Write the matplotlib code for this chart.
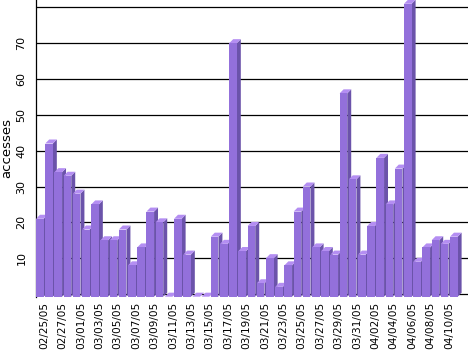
import matplotlib
matplotlib.use("Agg")
import matplotlib.pyplot as plt
from matplotlib.patches import Polygon

dates = ["02/25/05", "02/26/05", "02/27/05", "02/28/05", "03/01/05", "03/02/05",
         "03/03/05", "03/04/05", "03/05/05", "03/06/05", "03/07/05", "03/08/05",
         "03/09/05", "03/10/05", "03/11/05", "03/12/05", "03/13/05", "03/14/05",
         "03/15/05", "03/16/05", "03/17/05", "03/18/05", "03/19/05", "03/20/05",
         "03/21/05", "03/22/05", "03/23/05", "03/24/05", "03/25/05", "03/26/05",
         "03/27/05", "03/28/05", "03/29/05", "03/30/05", "03/31/05", "04/01/05",
         "04/02/05", "04/03/05", "04/04/05", "04/05/05", "04/06/05", "04/07/05",
         "04/08/05", "04/09/05", "04/10/05", "04/11/05"]
accesses = [21, 42, 34, 33, 28, 18, 25, 15, 15, 18, 8, 13, 23, 20, 0, 21, 11, 0,
            0, 16, 14, 70, 12, 19, 3, 10, 2, 8, 23, 30, 13, 12, 11, 56, 32, 11,
            19, 38, 25, 35, 81, 9, 13, 15, 14, 16]
y_ticks = [0, 10, 20, 30, 40, 50, 60, 70, 80]
y_labels = ["", "10", "20", "30", "40", "50", "60", "70", ""]

front_c = "#9370DB"
side_c = "#6B53AA"
top_c = "#B48EF2"

fig = plt.figure(figsize=(4.68, 3.51), dpi=100)
ax = fig.add_axes([35.5 / 468, (351 - 296.7) / 351, 1 - 35.5 / 468, 296.7 / 351])

w = 0.83
dx = 0.43
dy = 1.12
b = -0.75

for i, v in enumerate(accesses):
    top = v if v > 0 else b
    z = 3 + i * 0.01
    xl, xr = i - w / 2, i + w / 2
    if top > b:
        ax.add_patch(Polygon([(xl, b), (xr, b), (xr, top), (xl, top)], closed=True,
                             facecolor=front_c, edgecolor="none", zorder=z + 0.002))
        ax.add_patch(Polygon([(xr, b), (xr + dx, b + dy), (xr + dx, top + dy), (xr, top)],
                             closed=True, facecolor=side_c, edgecolor="none", zorder=z + 0.001))
    ax.add_patch(Polygon([(xl, top), (xr, top), (xr + dx, top + dy), (xl + dx, top + dy)],
                         closed=True, facecolor=top_c, edgecolor="none", zorder=z + 0.001))

ax.set_xlim(-0.473, 46.54)
ax.set_ylim(b, 82.05)

ax.set_yticks(y_ticks)
ax.set_yticklabels(y_labels, rotation=90, va="center", fontsize=8)
ax.tick_params(axis="y", length=0, pad=6.5)
ax.yaxis.grid(True, color="black", linewidth=0.9, zorder=1)
ax.set_axisbelow(True)

xt = list(range(0, len(dates), 2))
ax.set_xticks([i + 0.45 for i in xt])
ax.set_xticklabels([dates[i] for i in xt], rotation=90, fontsize=7.6)
ax.tick_params(axis="x", length=0, pad=3.5)

ax.set_ylabel("accesses", fontsize=9.5)
ax.yaxis.set_label_coords((13 - 35.5) / 432.5, 0.5)

for s in ["top", "right", "bottom"]:
    ax.spines[s].set_visible(False)
ax.spines["left"].set_linewidth(0.9)
ax.spines["left"].set_color("black")

fig.savefig("out.png", dpi=100)
